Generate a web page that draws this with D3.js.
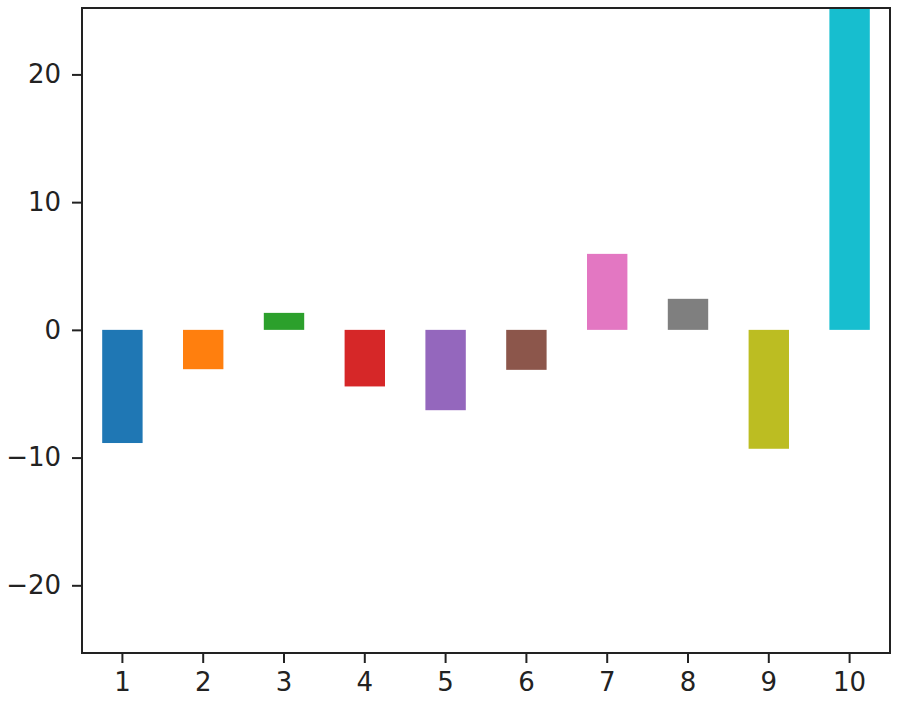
<!DOCTYPE html>
<html>
<head>
<meta charset="utf-8">
<script src="https://cdn.jsdelivr.net/npm/d3@7"></script>
<style>
body { margin: 0; background: #fff; }
text { font-family: "DejaVu Sans", sans-serif; }
</style>
</head>
<body>
<div id="chart"></div>
<script>
var categories = ["1","2","3","4","5","6","7","8","9","10"];
var values = [-8.86, -3.08, 1.33, -4.43, -6.29, -3.13, 5.95, 2.43, -9.31, 30];
var colors = ["#1f77b4","#ff7f0e","#2ca02c","#d62728","#9467bd","#8c564b","#e377c2","#7f7f7f","#bcbd22","#17becf"];
var yTicks = [-20, -10, 0, 10, 20];

var margin = {top: 8, bottom: 55, right: 7, left: 82},
    width = 897 - margin.left - margin.right,
    height = 708 - margin.top - margin.bottom;

var svg = d3.select("#chart")
  .append("svg")
  .attr("width", 897)
  .attr("height", 708)
  .append("g")
  .attr("transform", "translate(" + margin.left + "," + margin.top + ")");

var x = d3.scaleBand()
  .domain(categories)
  .range([0, width])
  .paddingInner(0.5)
  .paddingOuter(0.25);

var y = d3.scaleLinear()
  .domain([-25.3, 25.2])
  .range([height, 0]);

svg.append("clipPath")
  .attr("id", "clip")
  .append("rect")
  .attr("width", width)
  .attr("height", height);

// bars
svg.append("g")
  .attr("clip-path", "url(#clip)")
  .selectAll("rect")
  .data(values)
  .enter()
  .append("rect")
  .attr("x", function(d, i) { return x(categories[i]); })
  .attr("width", x.bandwidth())
  .attr("y", function(d) { return y(Math.max(0, d)); })
  .attr("height", function(d) { return Math.abs(y(d) - y(0)); })
  .attr("fill", function(d, i) { return colors[i]; });

// axes
var xAxis = svg.append("g")
  .attr("transform", "translate(0," + height + ")")
  .call(d3.axisBottom(x).tickSize(10).tickPadding(10));

var yAxis = svg.append("g")
  .call(d3.axisLeft(y).tickValues(yTicks).tickSize(10).tickPadding(11)
    .tickFormat(function(d) { return d < 0 ? "\u2212" + Math.abs(d) : d; }));

[xAxis, yAxis].forEach(function(a) {
  a.select(".domain").remove();
  a.selectAll("line").attr("stroke", "#222").attr("stroke-width", 2);
  a.selectAll("text").attr("fill", "#222").style("font-size", "26px");
});

// frame
svg.append("rect")
  .attr("width", width)
  .attr("height", height)
  .attr("fill", "none")
  .attr("stroke", "#222")
  .attr("stroke-width", 2);
</script>
</body>
</html>
